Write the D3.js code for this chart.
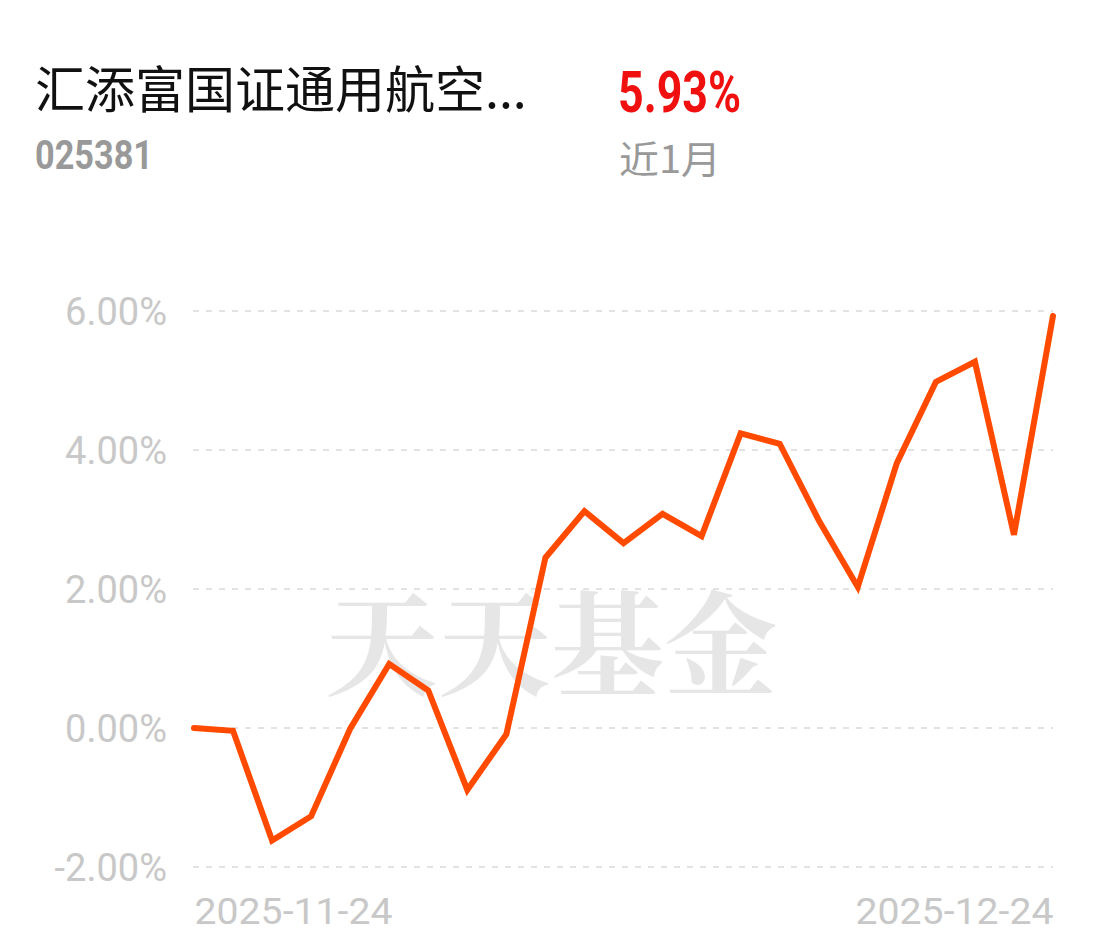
<!DOCTYPE html>
<html>
<head>
<meta charset="utf-8">
<script src="https://cdn.jsdelivr.net/npm/d3@7"></script>
<style>
  html, body { margin: 0; padding: 0; background: #fff; }
  svg { display: block; }
</style>
</head>
<body>
<div id="chart"></div>
<script>
const fundName = "汇添富国证通用航空...";
const fundCode = "025381";
const periodReturn = "5.93%";
const periodLabel = "近1月";
const watermark = "天天基金";

const dates = [
  "2025-11-24","2025-11-25","2025-11-26","2025-11-27","2025-11-28",
  "2025-12-01","2025-12-02","2025-12-03","2025-12-04","2025-12-05",
  "2025-12-08","2025-12-09","2025-12-10","2025-12-11","2025-12-12",
  "2025-12-15","2025-12-16","2025-12-17","2025-12-18","2025-12-19",
  "2025-12-22","2025-12-23","2025-12-24"
];
const returns = [
  0.00, -0.04, -1.62, -1.27, -0.01, 0.92, 0.54, -0.89, -0.09, 2.45,
  3.12, 2.66, 3.08, 2.76, 4.24, 4.09, 2.99, 2.03, 3.81, 4.98,
  5.27, 2.78, 5.93
];
const yTicks = [-2, 0, 2, 4, 6];
const xTickLabels = ["2025-11-24", "2025-12-24"];

const W = 1102, H = 951;
const svg = d3.select("#chart").append("svg").attr("width", W).attr("height", H);

const x = d3.scalePoint().domain(dates).range([194, 1053]);
const y = d3.scaleLinear().domain([-2, 6]).range([867, 311]);

// Header
svg.append("text").attr("x", 35).attr("y", 108)
  .attr("font-family", "'Noto Sans CJK SC', sans-serif")
  .attr("font-size", 50).attr("fill", "#111").text(fundName);
svg.append("text").attr("x", 35).attr("y", 169)
  .attr("font-family", "Roboto, sans-serif").attr("font-weight", "bold")
  .attr("font-size", 40).attr("fill", "#999")
  .attr("textLength", 118).attr("lengthAdjust", "spacingAndGlyphs").text(fundCode);
svg.append("text").attr("x", 618).attr("y", 112)
  .attr("font-family", "Roboto, sans-serif").attr("font-weight", "bold")
  .attr("font-size", 58).attr("fill", "#f01010")
  .attr("textLength", 123).attr("lengthAdjust", "spacingAndGlyphs").text(periodReturn);
svg.append("text").attr("x", 619).attr("y", 173)
  .attr("font-family", "'Noto Sans CJK SC', sans-serif")
  .attr("font-size", 38).attr("fill", "#999")
  .attr("textLength", 102).attr("lengthAdjust", "spacingAndGlyphs").text(periodLabel);

// Grid
const grid = svg.append("g");
grid.selectAll("line").data(yTicks).join("line")
  .attr("x1", 193).attr("x2", 1053)
  .attr("y1", d => y(d)).attr("y2", d => y(d))
  .attr("stroke", "#e3e3e3").attr("stroke-width", 2)
  .attr("stroke-dasharray", "6 7");

// Y axis labels
const yAxis = d3.axisLeft(y).tickValues(yTicks)
  .tickFormat(d => d.toFixed(2) + "%").tickSize(0).tickPadding(0);
const gy = svg.append("g").attr("transform", "translate(167,0)").call(yAxis);
gy.select(".domain").remove();
gy.selectAll("text")
  .attr("font-family", "Roboto, sans-serif").attr("font-size", 38)
  .attr("fill", "#c8c8c8").attr("dy", "0.35em");

// X axis labels
const xAxis = d3.axisBottom(x).tickValues(xTickLabels).tickSize(0).tickPadding(0);
const gx = svg.append("g").attr("transform", "translate(0,894)").call(xAxis);
gx.select(".domain").remove();
gx.selectAll("text")
  .attr("font-family", "Roboto, sans-serif").attr("font-size", 37)
  .attr("fill", "#c8c8c8").attr("dy", "0.8em")
  .attr("textLength", 198).attr("lengthAdjust", "spacingAndGlyphs")
  .attr("text-anchor", (d, i) => i === 0 ? "start" : "end");

// Watermark
svg.append("text").attr("x", 551).attr("y", 637)
  .attr("text-anchor", "middle").attr("dominant-baseline", "central")
  .attr("font-family", "'Noto Serif CJK SC', 'Noto Sans CJK SC', serif")
  .attr("font-weight", "bold").attr("font-size", 113)
  .attr("fill", "#e6e6e6").text(watermark);

// Line
const line = d3.line().x((d, i) => x(dates[i])).y(d => y(d));
svg.append("path").datum(returns)
  .attr("d", line).attr("fill", "none")
  .attr("stroke", "#ff4a00").attr("stroke-width", 6)
  .attr("stroke-linejoin", "miter").attr("stroke-linecap", "round");
</script>
</body>
</html>
